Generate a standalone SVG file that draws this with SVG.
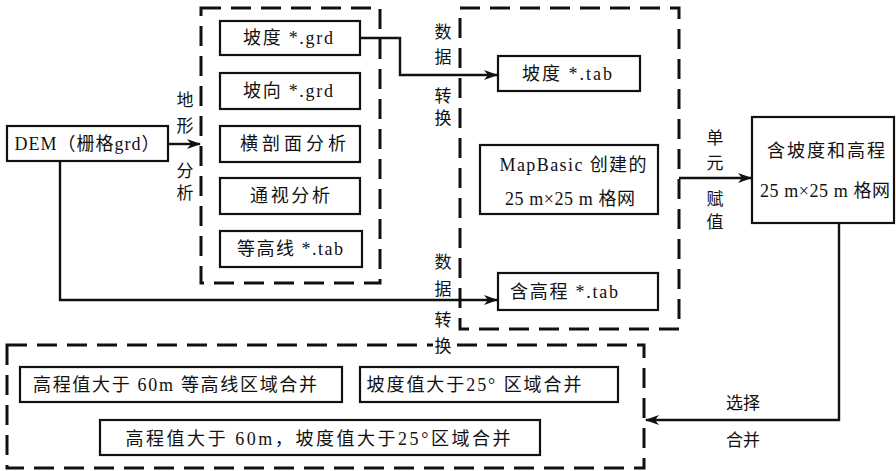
<svg xmlns="http://www.w3.org/2000/svg" width="896" height="471" viewBox="0 0 896 471">
<defs>
<style>
text{font-family:"Liberation Serif","Noto Sans CJK SC",serif;font-size:18px;fill:#111;text-anchor:middle}
.box{fill:#fff;stroke:#111;stroke-width:2.2}
.dash{fill:none;stroke:#111;stroke-width:3;stroke-dasharray:20 10}
.ln{fill:none;stroke:#111;stroke-width:2.4}
.lbl{font-size:17px}
</style>
<marker id="ah" markerWidth="14" markerHeight="10" refX="13" refY="5" orient="auto" markerUnits="userSpaceOnUse">
<path d="M0,0 L14,5 L0,10 L4,5 Z" fill="#111"/>
</marker>
</defs>
<rect width="896" height="471" fill="#fff"/>

<g id="groups">
<rect id="analysis-group" class="dash" x="201" y="8" width="179" height="275"/>
<rect id="convert-group" class="dash" x="460" y="8" width="219" height="321"/>
<rect id="merge-group" class="dash" x="7" y="345" width="637" height="123"/>
</g>

<g id="connectors">
<line class="ln" x1="168" y1="144" x2="200" y2="144" marker-end="url(#ah)"/>
<polyline class="ln" points="360,38 400,38 400,75 497,75" marker-end="url(#ah)"/>
<polyline class="ln" points="60,161 60,300 497,300" marker-end="url(#ah)"/>
<line class="ln" x1="679" y1="178" x2="751" y2="178" marker-end="url(#ah)"/>
<polyline class="ln" points="839,223 839,420 646,420" marker-end="url(#ah)"/>
</g>

<g id="dem"><rect class="box" x="7" y="126" width="161" height="35"/><text x="87" y="150" textLength="145" lengthAdjust="spacing">DEM（栅格grd）</text></g>
<g id="slope-grd"><rect class="box" x="220" y="21" width="140" height="34"/><text x="288" y="44" textLength="90" lengthAdjust="spacing">坡度 *.grd</text></g>
<g id="aspect-grd"><rect class="box" x="220" y="73" width="140" height="36"/><text x="288" y="97" textLength="90" lengthAdjust="spacing">坡向 *.grd</text></g>
<g id="profile"><rect class="box" x="220" y="126" width="140" height="36"/><text x="293" y="150" textLength="106" lengthAdjust="spacing">横剖面分析</text></g>
<g id="viewshed"><rect class="box" x="220" y="178" width="140" height="36"/><text x="290" y="202" textLength="80" lengthAdjust="spacing">通视分析</text></g>
<g id="contour-tab"><rect class="box" x="220" y="231" width="142" height="36"/><text x="290" y="255" textLength="106" lengthAdjust="spacing">等高线 *.tab</text></g>
<g id="slope-tab"><rect class="box" x="498" y="56" width="142" height="35"/><text x="567" y="80" textLength="90" lengthAdjust="spacing">坡度 *.tab</text></g>
<g id="mapbasic"><rect class="box" x="480" y="145" width="178" height="69"/><text x="573" y="171" textLength="147" lengthAdjust="spacing">MapBasic 创建的</text><text x="570" y="205" textLength="130" lengthAdjust="spacing">25 m×25 m 格网</text></g>
<g id="elev-tab"><rect class="box" x="498" y="273" width="160" height="37"/><text x="564" y="298" textLength="108" lengthAdjust="spacing">含高程 *.tab</text></g>
<g id="grid-result"><rect class="box" x="752" y="117" width="142" height="106"/><text x="826" y="157" textLength="118" lengthAdjust="spacing">含坡度和高程</text><text x="825" y="197" textLength="130" lengthAdjust="spacing">25 m×25 m 格网</text></g>
<g id="merge-elev"><rect class="box" x="20" y="367" width="322" height="35"/><text x="175" y="391" textLength="284" lengthAdjust="spacing">高程值大于 60m 等高线区域合并</text></g>
<g id="merge-slope"><rect class="box" x="360" y="367" width="258" height="35"/><text x="474" y="391" textLength="215" lengthAdjust="spacing">坡度值大于25° 区域合并</text></g>
<g id="merge-both"><rect class="box" x="100" y="420" width="440" height="35"/><text x="318" y="445" textLength="385" lengthAdjust="spacing">高程值大于 60m，坡度值大于25°区域合并</text></g>

<g id="labels">
<text class="lbl" x="185" y="106">地</text><text class="lbl" x="185" y="132">形</text><text class="lbl" x="185" y="177">分</text><text class="lbl" x="185" y="199">析</text>
<text class="lbl" x="443" y="38">数</text><text class="lbl" x="443" y="63">据</text><text class="lbl" x="443" y="102">转</text><text class="lbl" x="443" y="124">换</text>
<text class="lbl" x="443" y="268">数</text><text class="lbl" x="443" y="295">据</text><text class="lbl" x="443" y="326">转</text>
<rect x="433" y="337" width="22" height="18" fill="#fff"/><text class="lbl" x="443" y="352">换</text>
<text class="lbl" x="715" y="144">单</text><text class="lbl" x="715" y="169">元</text><text class="lbl" x="715" y="205">赋</text><text class="lbl" x="715" y="228">值</text>
<text class="lbl" x="743" y="409">选择</text><text class="lbl" x="743" y="446">合并</text>
</g>
</svg>
